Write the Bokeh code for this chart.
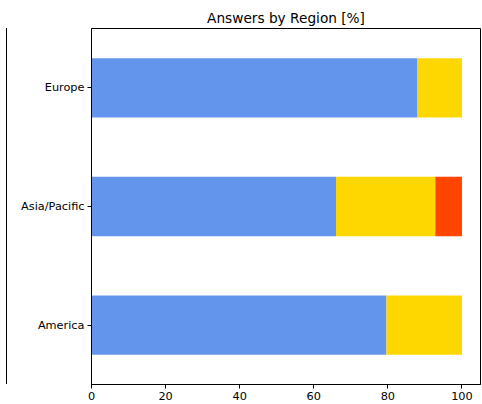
from bokeh.plotting import figure
from bokeh.models import ColumnDataSource, Range1d, FixedTicker, FactorRange, Div
from bokeh.layouts import row
from bokeh.embed import file_html
from bokeh.resources import INLINE

regions = ["America", "Asia/Pacific", "Europe"]
answer_a = [79.6, 66.0, 88.0]
answer_b = [20.4, 26.8, 12.0]
answer_c = [0.0, 7.2, 0.0]
series = ["answer_a", "answer_b", "answer_c"]
colors = ["#6495ED", "#FFD700", "#FF4500"]
x_ticks = [0, 20, 40, 60, 80, 100]

src = ColumnDataSource(dict(region=regions, answer_a=answer_a,
                            answer_b=answer_b, answer_c=answer_c))

p = figure(width=475, height=404, output_backend="svg", toolbar_location=None,
           y_range=FactorRange(factors=regions, range_padding=0),
           x_range=Range1d(0, 105),
           title="Answers by Region [%]",
           min_border_left=84, min_border_right=2, min_border_top=28,
           min_border_bottom=20)

p.hbar_stack(series, y="region", height=0.5, color=colors, source=src,
             line_color=None)

p.title.align = "center"
p.title.text_font = "DejaVu Sans"
p.title.text_font_size = "13.7px"
p.title.text_font_style = "normal"
p.title.text_color = "black"
p.title.standoff = 6

p.xgrid.visible = False
p.ygrid.visible = False
p.outline_line_color = "black"
p.outline_line_alpha = 1
p.outline_line_width = 1

for ax in (p.xaxis[0], p.yaxis[0]):
    ax.axis_line_color = "black"
    ax.major_tick_line_color = "black"
    ax.major_tick_out = 4
    ax.major_tick_in = 0
    ax.minor_tick_line_color = None
    ax.major_label_text_font = "DejaVu Sans"
    ax.major_label_text_font_size = "11.3px"
    ax.major_label_text_color = "black"
    ax.major_label_standoff = 3
p.xaxis[0].ticker = FixedTicker(ticks=x_ticks)
p.xaxis[0].major_label_standoff = 3

# right edge of the neighbouring (cropped) panel
stub = Div(text="", width=7, height=356, margin=(28, 0, 0, 0),
           styles={"border-right": "1px solid #000", "box-sizing": "border-box"})

layout = row(stub, p)

open("out.html", "w").write(file_html(layout, INLINE))
